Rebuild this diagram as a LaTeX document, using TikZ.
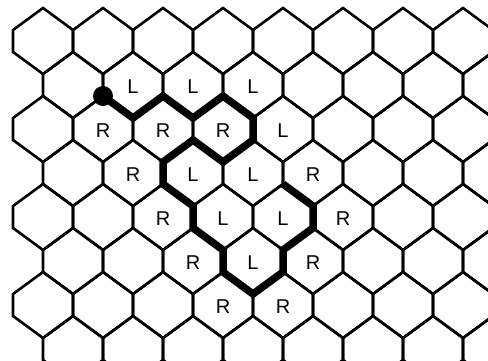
\documentclass[tikz,border=0pt]{standalone}
\usepackage{fontspec}
\setmainfont{Liberation Sans}
\usepackage{tikz}
\usetikzlibrary{calc}

\begin{document}
\begin{tikzpicture}[x=30pt, y=-22pt,
    cell/.style={black, line width=2.6pt, line join=miter},
    walk/.style={black, line width=7.5pt, line join=miter},
    lbl/.style={font=\fontsize{20}{22}\selectfont, inner sep=0pt, yshift=-2pt}]

%% ── FRAME: size of the picture ────────────────────────────────────────────
\useasboundingbox (-13pt,8pt) rectangle (475pt,-352pt);
\clip (-13pt,8pt) rectangle (475pt,-352pt);

%% ── HONEYCOMB: pointy-top cells, odd rows shifted right ───────────────────
\foreach \r in {0,...,7}{
  \foreach \c in {0,...,7}{
    \pgfmathsetmacro\hx{2*\c+1+mod(\r,2)}
    \pgfmathsetmacro\hy{2*\r+1.5}
    \coordinate (h\r-\c) at (\hx,\hy);
    \draw[cell] (h\r-\c) +(0,-1.5) -- +(1,-0.5) -- +(1,0.5)
      -- +(0,1.5) -- +(-1,0.5) -- +(-1,-0.5) -- cycle;
  }
}

%% ── LABELS in the cells ───────────────────────────────────────────────────
\foreach \r/\c/\t in {
    1/1/L, 1/2/L, 1/3/L,
    2/1/R, 2/2/R, 2/3/R, 2/4/L,
    3/1/R, 3/2/L, 3/3/L, 3/4/R,
    4/2/R, 4/3/L, 4/4/L, 4/5/R,
    5/2/R, 5/3/L, 5/4/R,
    6/3/R, 6/4/R}{
  \node[lbl] (lab\r-\c) at (h\r-\c) {\t};
}

%% ── WALK along the cell edges ─────────────────────────────────────────────
\draw[walk] (3,4) -- (4,5) -- (5,4) -- (6,5) -- (7,4) -- (8,5)
  -- (8,6) -- (7,7) -- (6,6) -- (5,7) -- (5,8) -- (6,9) -- (6,10)
  -- (7,11) -- (7,12) -- (8,13) -- (9,12) -- (9,11) -- (10,10)
  -- (10,9) -- (9,8);

% start point
\fill[black] (3,4) circle (10pt);

\end{tikzpicture}
\end{document}
